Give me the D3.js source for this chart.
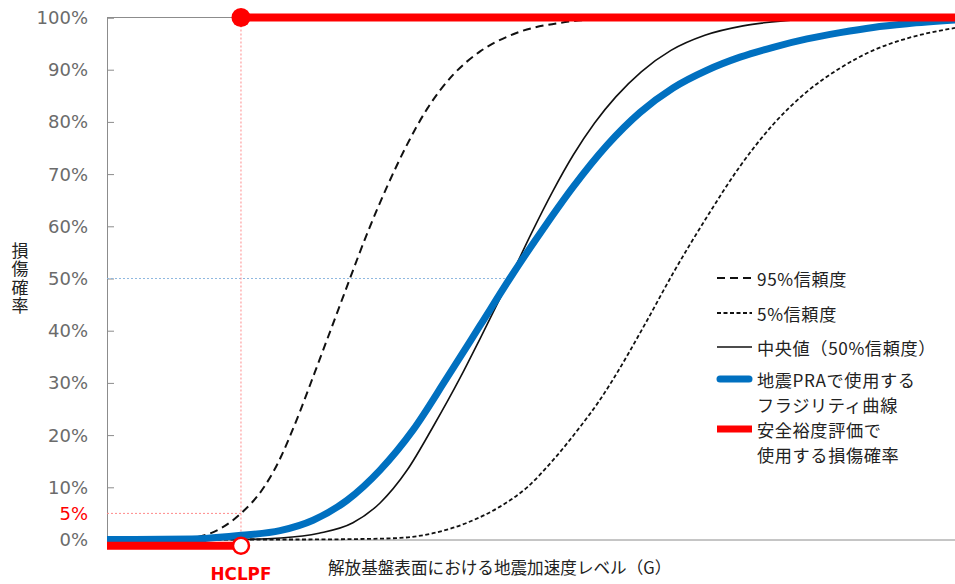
<!DOCTYPE html>
<html><head><meta charset="utf-8">
<script src="https://cdn.jsdelivr.net/npm/d3@7"></script>
<style>
html,body{margin:0;padding:0;background:#fff;}
svg{display:block;}
</style></head>
<body>
<svg id="chart" width="955" height="584"></svg>
<script>
// ---- data (x: ground acceleration G, y: damage probability) ----
const conf95 = [[0,0],[0.17,0],[0.21,0.004],[0.27,0.022],[0.316,0.05],[0.37,0.10],[0.41,0.158],[0.43,0.195],[0.455,0.245],[0.49,0.32],[0.52,0.385],[0.55,0.45],[0.573,0.50],[0.613,0.585],[0.66,0.675],[0.708,0.757],[0.755,0.825],[0.816,0.89],[0.88,0.935],[0.958,0.968],[1.07,0.99],[1.2,0.998],[1.35,1.0],[2.0,1.0]];
const conf05 = [[0,0],[0.45,0],[0.6,0.001],[0.691,0.003],[0.769,0.012],[0.849,0.032],[0.927,0.063],[0.991,0.10],[1.052,0.152],[1.116,0.216],[1.163,0.268],[1.193,0.306],[1.274,0.42],[1.335,0.51],[1.415,0.618],[1.493,0.715],[1.571,0.795],[1.651,0.858],[1.729,0.903],[1.807,0.937],[1.887,0.96],[2.0,0.98]];
const median = [[0,0],[0.3,0],[0.41,0.003],[0.50,0.012],[0.58,0.032],[0.644,0.07],[0.708,0.133],[0.769,0.216],[0.833,0.31],[0.88,0.385],[0.95,0.50],[1.0,0.585],[1.05,0.665],[1.1,0.737],[1.15,0.798],[1.2,0.848],[1.26,0.896],[1.33,0.937],[1.41,0.966],[1.5,0.984],[1.6,0.994],[1.75,1.0],[2.0,1.0]];
const praCurve = [[0,0],[0.2,0.001],[0.316,0.008],[0.408,0.017],[0.486,0.037],[0.566,0.075],[0.644,0.133],[0.722,0.21],[0.802,0.31],[0.88,0.41],[0.95,0.50],[1.038,0.606],[1.099,0.675],[1.179,0.755],[1.257,0.818],[1.335,0.865],[1.415,0.899],[1.493,0.924],[1.571,0.943],[1.651,0.959],[1.729,0.971],[1.807,0.981],[1.887,0.988],[2.0,0.995]];
const hclpfG = 0.316;
const hclpfP = 0.05;
const medianP = 0.5;
const medianG = 0.95;
const stepLow = [[0,-0.012],[hclpfG,-0.012]];
const stepHigh = [[hclpfG,1.0],[2.0,1.0]];
const yTicks = [0,0.1,0.2,0.3,0.4,0.5,0.6,0.7,0.8,0.9,1.0];
const yTitle = "損傷確率";
const xTitle = "解放基盤表面における地震加速度レベル（G）";
const legendItems = [
  {key:"c95", lines:["95%信頼度"]},
  {key:"c05", lines:["5%信頼度"]},
  {key:"med", lines:["中央値（50%信頼度）"]},
  {key:"pra", lines:["地震PRAで使用する","フラジリティ曲線"]},
  {key:"red", lines:["安全裕度評価で","使用する損傷確率"]}
];

// ---- layout ----
const svg = d3.select("#chart");
const X0 = 107, X1 = 955, Y0 = 539.5, Y1 = 17.5;
const x = d3.scaleLinear().domain([0,2.0]).range([X0,X1]);
const y = d3.scaleLinear().domain([0,1]).range([Y0,Y1]);
const RED = "#FF0000", BLUE = "#0070C0", AXIS = "#8c8c8c";
const CJK = "'Noto Sans CJK JP','Noto Sans',sans-serif";

const line = d3.line().x(d=>x(d[0])).y(d=>y(d[1])).curve(d3.curveMonotoneX);

// top frame line at 100%
svg.append("line").attr("x1",X0).attr("x2",X1).attr("y1",y(1)).attr("y2",y(1))
  .attr("stroke",AXIS).attr("stroke-width",1);

// axes
const yAxis = d3.axisRight(y).tickValues(yTicks).tickSize(7).tickFormat("");
const gy = svg.append("g").attr("transform",`translate(${X0},0)`).call(yAxis);
gy.select(".domain").attr("stroke",AXIS);
gy.selectAll(".tick line").attr("stroke",AXIS);

const xAxis = d3.axisBottom(x).tickValues([]).tickSizeOuter(0);
const gx = svg.append("g").attr("transform",`translate(0,${Y0})`).call(xAxis);
gx.select(".domain").attr("stroke",AXIS);

// tick labels
svg.append("g").selectAll("text").data(yTicks).join("text")
  .attr("x",88).attr("y",d=>y(d)).attr("text-anchor","end").attr("dominant-baseline","central")
  .attr("font-family","'DejaVu Sans',Verdana,sans-serif").attr("font-size",18).attr("fill","#6b6b6b")
  .text(d=>d3.format(".0%")(d));
svg.append("text").attr("x",88).attr("y",y(hclpfP)).attr("text-anchor","end").attr("dominant-baseline","central")
  .attr("font-family","'DejaVu Sans',Verdana,sans-serif").attr("font-size",18).attr("fill",RED)
  .text(d3.format(".0%")(hclpfP));

// guide lines
svg.append("line").attr("x1",X0).attr("x2",x(medianG)).attr("y1",y(medianP)).attr("y2",y(medianP))
  .attr("stroke","#8fb8e0").attr("stroke-width",1).attr("stroke-dasharray","2,2");
svg.append("line").attr("x1",X0).attr("x2",x(hclpfG)).attr("y1",y(hclpfP)).attr("y2",y(hclpfP))
  .attr("stroke","#ff8a8a").attr("stroke-width",1).attr("stroke-dasharray","2,2");
svg.append("line").attr("x1",x(hclpfG)).attr("x2",x(hclpfG)).attr("y1",y(1)).attr("y2",y(-0.012))
  .attr("stroke","#ff8a8a").attr("stroke-width",1).attr("stroke-dasharray","2,2");

// curves
const styles = {
  c05:{stroke:"#111",width:1.8,dash:"4,2.5"},
  c95:{stroke:"#111",width:2,dash:"8,5"},
  med:{stroke:"#111",width:1.6,dash:null},
  pra:{stroke:BLUE,width:7,dash:null}
};
function drawCurve(data,st){
  svg.append("path").datum(data).attr("d",line).attr("fill","none")
    .attr("stroke",st.stroke).attr("stroke-width",st.width)
    .attr("stroke-dasharray",st.dash).attr("stroke-linejoin","round");
}
drawCurve(conf05,styles.c05);
drawCurve(conf95,styles.c95);
drawCurve(median,styles.med);
drawCurve(praCurve,styles.pra);

// red step
const straight = d3.line().x(d=>x(d[0])).y(d=>y(d[1]));
[stepLow,stepHigh].forEach(s=>{
  svg.append("path").datum(s).attr("d",straight).attr("fill","none")
    .attr("stroke",RED).attr("stroke-width",8);
});
svg.append("circle").attr("cx",x(hclpfG)).attr("cy",y(1)).attr("r",9.5).attr("fill",RED);
svg.append("circle").attr("cx",x(hclpfG)).attr("cy",y(-0.012)).attr("r",8).attr("fill","#fff")
  .attr("stroke",RED).attr("stroke-width",2.5);

// titles
svg.append("text").attr("x",20).attr("y",279).attr("text-anchor","middle")
  .attr("writing-mode","vertical-rl").style("writing-mode","vertical-rl")
  .attr("letter-spacing",1.5)
  .attr("font-family",CJK).attr("font-size",17).attr("fill","#222").text(yTitle);
svg.append("text").attr("x",328).attr("y",567).attr("dominant-baseline","central")
  .attr("font-family",CJK).attr("font-size",16.6).attr("fill","#222").text(xTitle);
svg.append("text").attr("x",x(hclpfG)).attr("y",580).attr("text-anchor","middle")
  .attr("font-family","'DejaVu Sans',Verdana,sans-serif").attr("font-weight","bold").attr("font-size",16.8)
  .attr("fill",RED).text("HCLPF");

// legend
const legY = [278,313,347,379,429];
const lg = svg.append("g");
legendItems.forEach((it,i)=>{
  const yy = legY[i];
  const l = lg.append("line").attr("x1",717).attr("x2",752).attr("y1",yy).attr("y2",yy);
  if(it.key==="red"){ l.attr("stroke",RED).attr("stroke-width",7); }
  else if(it.key==="pra"){ l.attr("stroke",BLUE).attr("stroke-width",7).attr("stroke-linecap","round").attr("x1",720).attr("x2",749); }
  else { const st = styles[it.key]; l.attr("stroke",st.stroke).attr("stroke-width",st.width).attr("stroke-dasharray",st.dash); }
  it.lines.forEach((s,j)=>{
    lg.append("text").attr("x",757).attr("y",yy+j*25).attr("dominant-baseline","central")
      .attr("font-family",CJK).attr("font-size",17.2).attr("letter-spacing",0.6).attr("fill","#222").text(s);
  });
});
</script>
</body></html>
